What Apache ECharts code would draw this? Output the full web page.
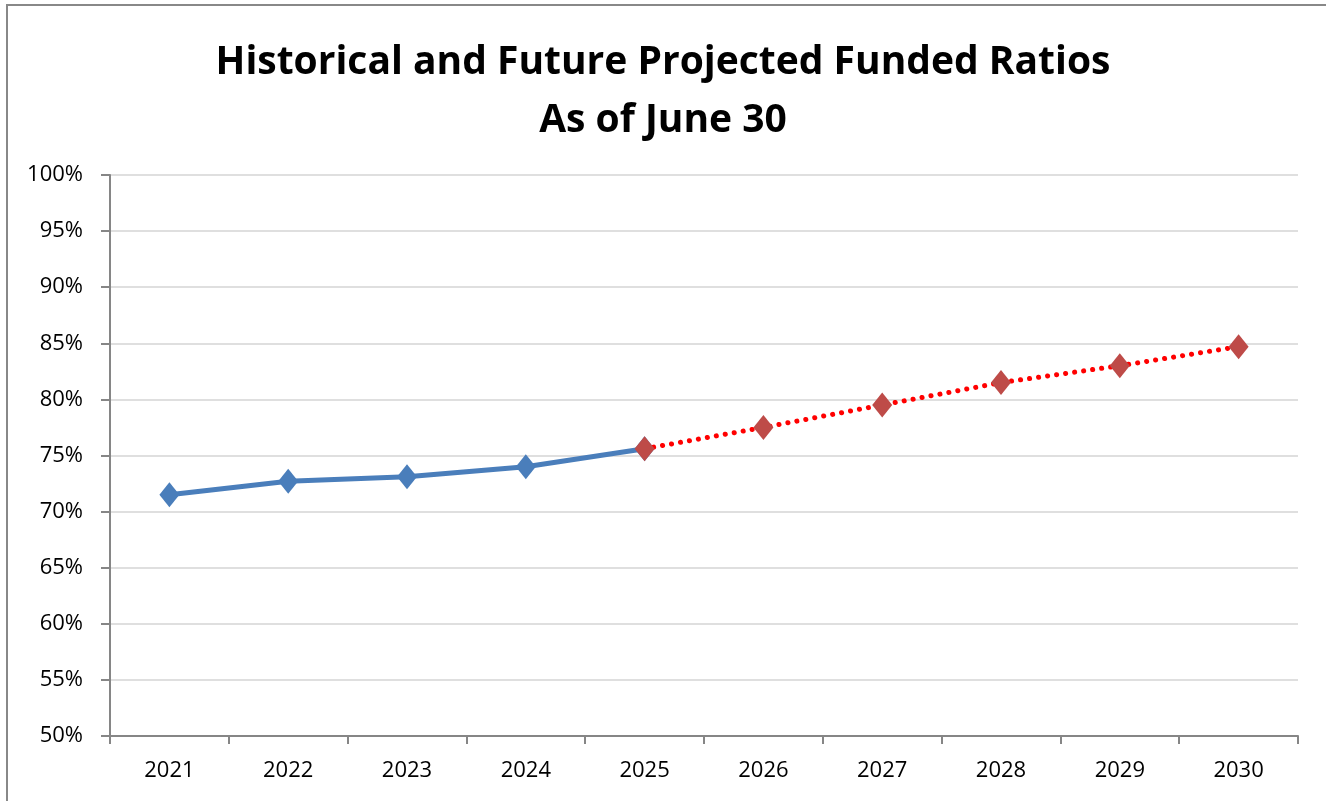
<!DOCTYPE html>
<html>
<head>
<meta charset="utf-8">
<script src="https://cdn.jsdelivr.net/npm/echarts@6/dist/echarts.min.js"></script>
<style>
  html, body { margin: 0; padding: 0; background: #fff; }
  #box { width: 1326px; height: 801px; }
</style>
</head>
<body>
<div id="box"></div>
<script>
// data
var years = ['2021', '2022', '2023', '2024', '2025', '2026', '2027', '2028', '2029', '2030'];
var historical = [71.5, 72.7, 73.1, 74.0, 75.6, null, null, null, null, null];
var projected = [null, null, null, null, 75.6, 77.5, 79.5, 81.5, 83.0, 84.7];

window.onload = function () {
    var charts = echarts.init(document.getElementById('box'));
    var font = '"Open Sans", "Liberation Sans", sans-serif';

    var option = {
        animation: false,
        backgroundColor: '#fff',
        graphic: [{
            type: 'rect',
            shape: { x: 7, y: 5, width: 1340, height: 820 },
            style: { fill: 'none', stroke: '#888', lineWidth: 2 },
            silent: true
        }],
        title: {
            text: 'Historical and Future Projected Funded Ratios\nAs of June 30',
            left: 'center',
            top: 29,
            textStyle: {
                fontFamily: font,
                fontWeight: 'bold',
                fontSize: 39,
                lineHeight: 58,
                color: '#000'
            }
        },
        grid: { left: 110, right: 28, top: 175, bottom: 65 },
        xAxis: {
            type: 'category',
            data: years,
            boundaryGap: true,
            axisLine: { lineStyle: { color: '#868686', width: 2 } },
            axisTick: { show: true, length: 8, lineStyle: { color: '#868686', width: 2 } },
            axisLabel: { color: '#000', fontFamily: font, fontSize: 22, margin: 24 }
        },
        yAxis: {
            type: 'value',
            min: 50,
            max: 100,
            interval: 5,
            axisLine: { show: true, lineStyle: { color: '#868686', width: 2 } },
            axisTick: { show: true, length: 9, lineStyle: { color: '#868686', width: 2 } },
            splitLine: { lineStyle: { color: '#d4d4d4', width: 1.5 } },
            axisLabel: {
                color: '#000', fontFamily: font, fontSize: 22, margin: 27,
                formatter: function (v) { return v + '%'; }
            }
        },
        series: [
            {
                name: 'Historical',
                type: 'line',
                data: historical,
                symbol: 'diamond',
                symbolSize: [20, 25],
                lineStyle: { color: '#4a7ebb', width: 5 },
                itemStyle: { color: '#4a7ebb' },
                z: 2
            },
            {
                name: 'Projected',
                type: 'line',
                data: projected,
                symbol: 'diamond',
                symbolSize: [20, 25],
                lineStyle: { color: '#ff0000', width: 5, type: [0.1, 9], cap: 'round' },
                itemStyle: { color: '#be4b48' },
                z: 3
            }
        ]
    };

    charts.setOption(option);
};
</script>
</body>
</html>
